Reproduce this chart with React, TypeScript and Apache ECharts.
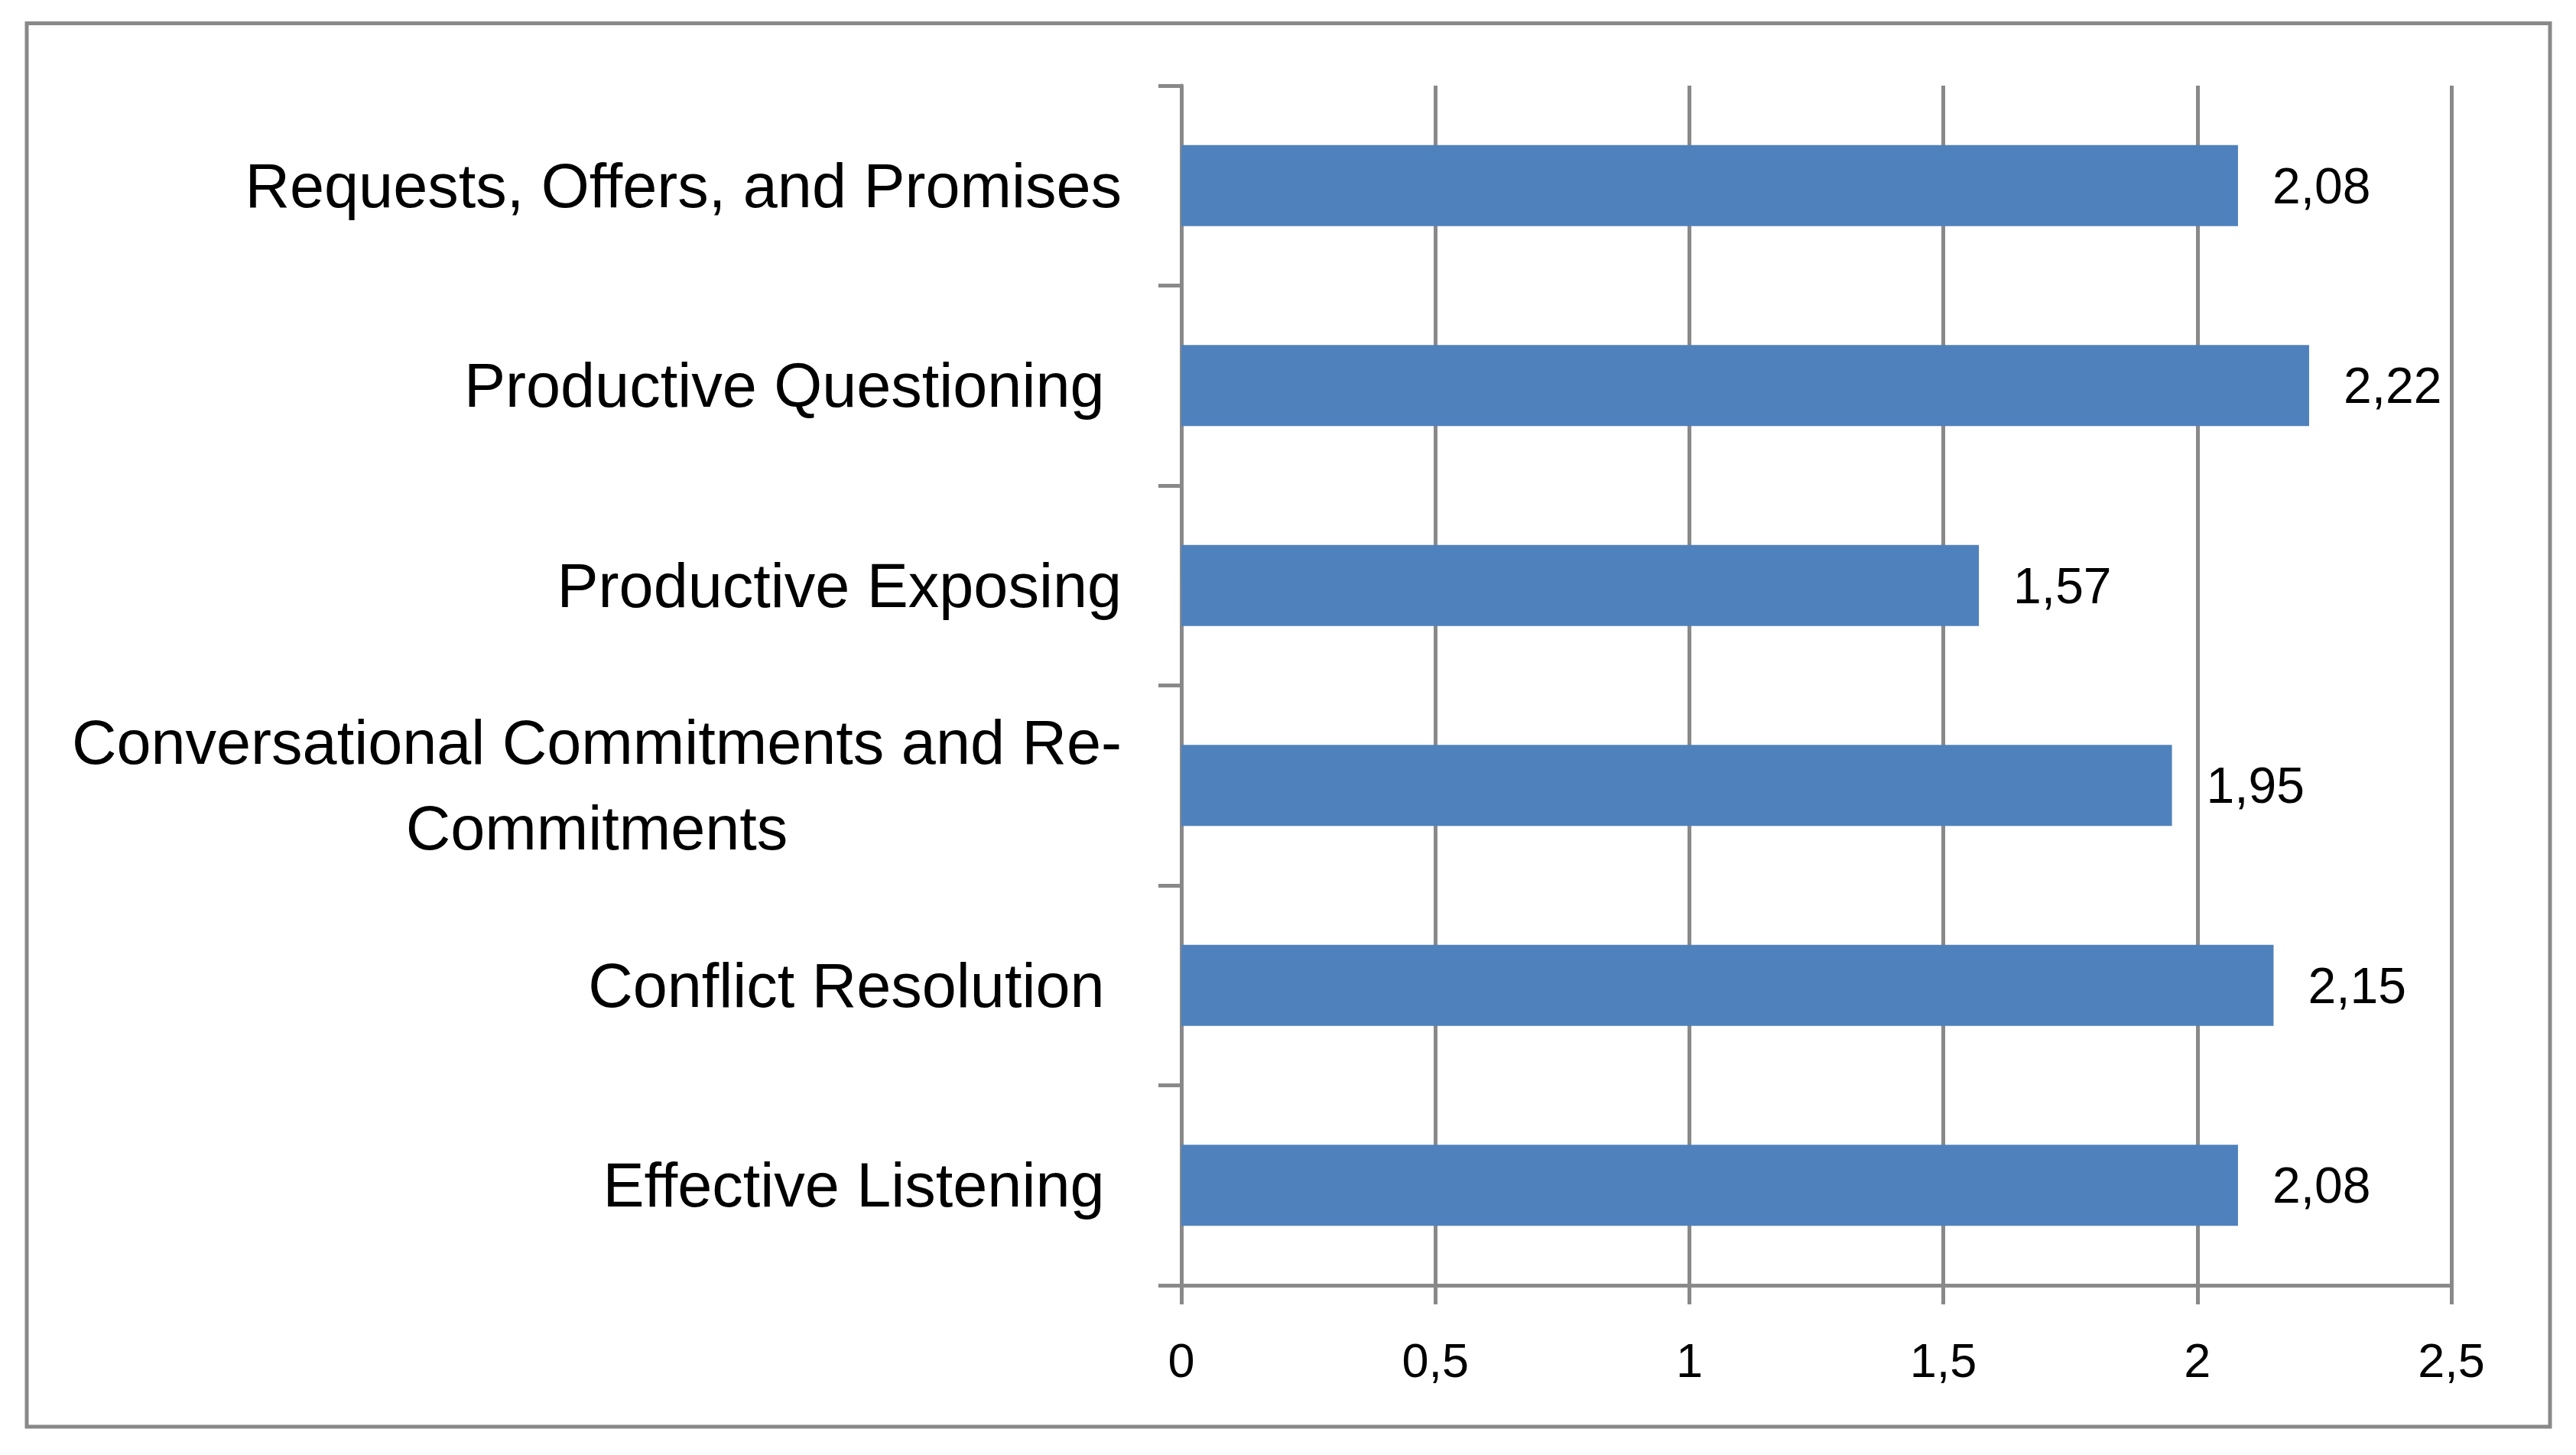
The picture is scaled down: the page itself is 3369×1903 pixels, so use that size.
import React, { useEffect, useRef } from "react";
import * as echarts from "echarts";

const categories = [
  "Requests, Offers, and Promises",
  "Productive Questioning ",
  "Productive Exposing",
  "Conversational Commitments and Re-Commitments",
  "Conflict Resolution ",
  "Effective Listening ",
];
const values = [2.08, 2.22, 1.57, 1.95, 2.15, 2.08];
const xMin = 0;
const xMax = 2.5;
const xStep = 0.5;

const W = 3369;
const H = 1903;
const FONT = "Liberation Sans";
const GRAY = "#898989";

const fmtNum = (v: number, d: number) => {
  const s = d >= 0 ? v.toFixed(d) : String(v);
  return s.replace(".", ",");
};

export default function App() {
  const ref = useRef<HTMLDivElement>(null);
  useEffect(() => {
    if (!ref.current) return;
    const chart = echarts.init(ref.current, null, { renderer: "svg" });
    chart.setOption({
      animation: false,
      backgroundColor: "#ffffff",
      textStyle: { fontFamily: FONT },
      graphic: [
        {
          type: "rect",
          shape: { x: 35, y: 30.5, width: 3300, height: 1835.5 },
          style: { fill: "none", stroke: GRAY, lineWidth: 5 },
          silent: true,
        },
      ],
      grid: { left: 1545, right: W - 3206, top: 112, bottom: H - 1681, containLabel: false },
      xAxis: {
        type: "value",
        min: xMin,
        max: xMax,
        interval: xStep,
        axisLine: { show: true, lineStyle: { color: GRAY, width: 5 } },
        axisTick: { show: true, length: 25, lineStyle: { color: GRAY, width: 5 } },
        splitLine: { show: true, lineStyle: { color: GRAY, width: 5 } },
        axisLabel: {
          margin: 66,
          fontSize: 63,
          color: "#000",
          fontFamily: FONT,
          formatter: (v: number) => fmtNum(v, -1),
        },
      },
      yAxis: {
        type: "category",
        inverse: true,
        data: categories,
        axisLine: { show: true, lineStyle: { color: GRAY, width: 5 } },
        axisTick: { show: true, length: 30, interval: 0, lineStyle: { color: GRAY, width: 5 } },
        splitLine: { show: false },
        axisLabel: {
          interval: 0,
          margin: 78,
          align: "right",
          formatter: (v: string) => {
            const txt = v.replace("Re-", "Re-\n").replace(/ +$/, (m) => "\u00a0".repeat(m.length));
            return txt
              .split("\n")
              .map((l) => `{c|${l}}`)
              .join("\n");
          },
          rich: {
            c: {
              align: "center",
              fontSize: 81,
              lineHeight: 112,
              fontFamily: FONT,
              color: "#000",
            },
          },
        },
      },
      series: [
        {
          type: "bar",
          data: values,
          barWidth: 106,
          itemStyle: { color: "#4F81BD" },
          label: {
            show: true,
            position: "right",
            distance: 45,
            fontSize: 66,
            fontFamily: FONT,
            color: "#000",
            formatter: (p: any) => fmtNum(p.value, 2),
          },
        },
      ],
    });
    return () => chart.dispose();
  }, []);
  return (
    <div
      ref={ref}
      style={{ position: "fixed", left: 0, top: 0, width: W, height: H, background: "#fff" }}
    />
  );
}
